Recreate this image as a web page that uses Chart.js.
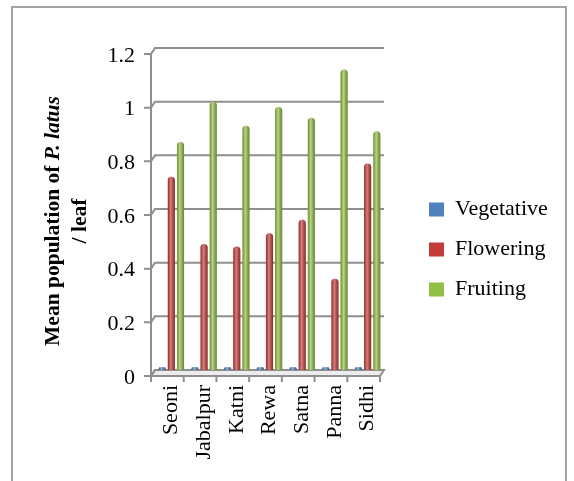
<!DOCTYPE html>
<html>
<head>
<meta charset="utf-8">
<script src="https://cdn.jsdelivr.net/npm/chart.js@4.4.0/dist/chart.umd.min.js"></script>
<style>
  html, body { margin: 0; padding: 0; background: #fff; }
  #wrap { position: relative; width: 574px; height: 481px; overflow: hidden; }
  #frame { position: absolute; left: 11px; top: 6px; width: 556px; height: 520px; border: 2px solid #a3a3a3; box-sizing: border-box; }
  canvas { position: absolute; left: 0; top: 0; }
</style>
</head>
<body>
<div id="wrap">
  <div id="frame"></div>
  <canvas id="chart" width="574" height="481"></canvas>
</div>
<script>
// districts and mean mite population per leaf
const districts = ['Seoni', 'Jabalpur', 'Katni', 'Rewa', 'Satna', 'Panna', 'Sidhi'];
const vegetative = [0.01, 0.01, 0.01, 0.01, 0.01, 0.01, 0.01];
const flowering = [0.72, 0.47, 0.46, 0.51, 0.56, 0.34, 0.77];
const fruiting = [0.85, 1.0, 0.91, 0.98, 0.94, 1.12, 0.89];
const seriesNames = ['Vegetative', 'Flowering', 'Fruiting'];
const yTicks = [0, 0.2, 0.4, 0.6, 0.8, 1.0, 1.2];
const titleParts = [['Mean population of ', false], ['P. latus', true]];
const titleLine2 = '/ leaf';

const serif = "'Liberation Serif', 'Times New Roman', serif";
const font = { family: serif, size: 22 };

// fake 3d: front axis sits a little left and below the back wall
const dx = 4, dy = 6;
const legendGap = 27;

const wall = {
  id: 'wall',
  beforeDatasetsDraw(chart) {
    const { ctx, chartArea: a, scales: { x, y } } = chart;
    ctx.save();
    ctx.strokeStyle = '#8f8f8f';
    ctx.lineWidth = 2;
    // floor slab
    ctx.fillStyle = '#ececec';
    ctx.beginPath();
    ctx.moveTo(a.left - dx, a.bottom + dy);
    ctx.lineTo(a.right - dx, a.bottom + dy);
    ctx.lineTo(a.right, a.bottom);
    ctx.lineTo(a.left, a.bottom);
    ctx.closePath();
    ctx.fill();
    ctx.stroke();
    // gridlines on the back wall, bent to the front tick marks
    yTicks.forEach(v => {
      const py = y.getPixelForValue(v);
      ctx.beginPath();
      ctx.moveTo(a.left - dx - 7, py + dy);
      ctx.lineTo(a.left - dx, py + dy);
      ctx.lineTo(a.left, py);
      ctx.lineTo(a.right, py);
      ctx.stroke();
    });
    // front value axis
    ctx.beginPath();
    ctx.moveTo(a.left - dx, a.top + dy);
    ctx.lineTo(a.left - dx, a.bottom + dy);
    ctx.stroke();
    // category tick marks
    for (let i = 0; i <= districts.length; i++) {
      const px = x.getPixelForValue(i - 0.5) - dx;
      ctx.beginPath();
      ctx.moveTo(px, a.bottom + dy);
      ctx.lineTo(px, a.bottom + dy + 6);
      ctx.stroke();
    }
    ctx.restore();
  },
  afterDatasetsDraw(chart) {
    // cylinder shading over every bar
    const ctx = chart.ctx;
    ctx.save();
    chart.data.datasets.forEach((ds, i) => {
      chart.getDatasetMeta(i).data.forEach(bar => {
        const { x, y, base, width } = bar.getProps(['x', 'y', 'base', 'width'], true);
        const g = ctx.createLinearGradient(x - width / 2, 0, x + width / 2, 0);
        g.addColorStop(0, 'rgba(0,0,0,0.22)');
        g.addColorStop(0.4, 'rgba(255,255,255,0.35)');
        g.addColorStop(1, 'rgba(0,0,0,0.3)');
        ctx.fillStyle = g;
        const r = Math.min(width / 2, (base - y) / 2);
        ctx.beginPath();
        ctx.roundRect(x - width / 2, y, width, base - y, [r, r, 0, 0]);
        ctx.fill();
      });
    });
    ctx.restore();
  }
};

// legend sits further from the plot than chart.js would put it
const legendShift = {
  id: 'legendShift',
  beforeLayout(chart) {
    const leg = chart.legend;
    if (!leg || leg._shifted) return;
    leg._shifted = true;
    const fit = leg.fit;
    leg.fit = function () { fit.call(this); this.width = 185; };
    const draw = leg.draw;
    leg.draw = function () {
      this.ctx.save();
      this.ctx.translate(legendGap, -5);
      draw.call(this);
      this.ctx.restore();
    };
  }
};

const yTitle = {
  id: 'yTitle',
  afterDraw(chart) {
    const { ctx, chartArea: a, scales: { y } } = chart;
    const cy = (a.top + a.bottom) / 2 + 12;
    ctx.save();
    ctx.fillStyle = '#000';
    ctx.textBaseline = 'middle';
    ctx.textAlign = 'left';
    const fonts = titleParts.map(p => (p[1] ? 'italic ' : '') + 'bold 21.5px ' + serif);
    let total = 0;
    const widths = titleParts.map((p, i) => { ctx.font = fonts[i]; const w = ctx.measureText(p[0]).width; total += w; return w; });
    ctx.translate(y.left - 54, cy);
    ctx.rotate(-Math.PI / 2);
    let cx = -total / 2;
    titleParts.forEach((p, i) => { ctx.font = fonts[i]; ctx.fillText(p[0], cx, 0); cx += widths[i]; });
    ctx.rotate(Math.PI / 2);
    ctx.translate(27, 0);
    ctx.rotate(-Math.PI / 2);
    ctx.font = 'bold 21.5px ' + serif;
    ctx.textAlign = 'center';
    ctx.fillText(titleLine2, 0, 0);
    ctx.restore();
  }
};

const barStyle = {
  barPercentage: 0.78,
  categoryPercentage: 0.84,
  borderWidth: 0,
  borderRadius: { topLeft: 4, topRight: 4 }
};

new Chart(document.getElementById('chart'), {
  type: 'bar',
  data: {
    labels: districts,
    datasets: [
      { label: seriesNames[0], data: vegetative, backgroundColor: '#4f81bd', ...barStyle },
      { label: seriesNames[1], data: flowering, backgroundColor: '#c43c3a', ...barStyle },
      { label: seriesNames[2], data: fruiting, backgroundColor: '#94bf45', ...barStyle }
    ]
  },
  options: {
    responsive: false,
    animation: false,
    devicePixelRatio: 1,
    layout: { padding: { left: 107, top: 48, right: 5, bottom: 20 } },
    scales: {
      x: {
        grid: { display: false, drawTicks: false },
        border: { display: false },
        ticks: { font, color: '#000', minRotation: 90, maxRotation: 90, padding: 15, autoSkip: false },
        afterFit: scale => { scale.height = 91; }
      },
      y: {
        min: 0,
        max: 1.2,
        grid: { display: false, drawTicks: false },
        border: { display: false },
        afterBuildTicks: scale => { scale.ticks = yTicks.map(v => ({ value: v })); },
        afterFit: scale => { scale.width = 48; },
        ticks: {
          font, color: '#000', padding: 20, labelOffset: 8,
          callback: v => String(Math.round(v * 10) / 10)
        }
      }
    },
    plugins: {
      legend: {
        position: 'right',
        labels: { font, color: '#000', boxWidth: 15, boxHeight: 14, padding: 18 }
      },
      tooltip: { enabled: false }
    }
  },
  plugins: [wall, legendShift, yTitle]
});
</script>
</body>
</html>
